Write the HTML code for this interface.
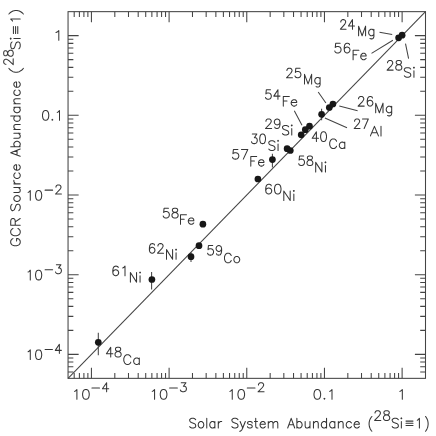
<!DOCTYPE html><html><head><meta charset="utf-8"><title>chart</title><style>html,body{margin:0;padding:0;background:#fff;font-family:"Liberation Sans",sans-serif}</style></head><body><svg width="436" height="436" viewBox="0 0 436 436" style="display:block">
<rect width="436" height="436" fill="#fff"/>
<g stroke="#444" stroke-width="1.05" fill="none" stroke-linecap="butt">
<rect x="68.05" y="11.65" width="357.45" height="366.70"/>
<path d="M74.20 11.65v5.3M74.20 378.35v-5.3M68.05 372.04h5.3M425.5 372.04h-5.3M79.40 11.65v5.3M79.40 378.35v-5.3M68.05 366.71h5.3M425.5 366.71h-5.3M83.90 11.65v5.3M83.90 378.35v-5.3M68.05 362.09h5.3M425.5 362.09h-5.3M87.88 11.65v5.3M87.88 378.35v-5.3M68.05 358.01h5.3M425.5 358.01h-5.3M91.43 11.65v10.6M91.43 378.35v-10.6M68.05 354.36h10.6M425.5 354.36h-10.6M114.81 11.65v5.3M114.81 378.35v-5.3M68.05 330.38h5.3M425.5 330.38h-5.3M128.49 11.65v5.3M128.49 378.35v-5.3M68.05 316.35h5.3M425.5 316.35h-5.3M138.19 11.65v5.3M138.19 378.35v-5.3M68.05 306.39h5.3M425.5 306.39h-5.3M145.72 11.65v5.3M145.72 378.35v-5.3M68.05 298.67h5.3M425.5 298.67h-5.3M151.87 11.65v5.3M151.87 378.35v-5.3M68.05 292.36h5.3M425.5 292.36h-5.3M157.07 11.65v5.3M157.07 378.35v-5.3M68.05 287.02h5.3M425.5 287.02h-5.3M161.58 11.65v5.3M161.58 378.35v-5.3M68.05 282.40h5.3M425.5 282.40h-5.3M165.55 11.65v5.3M165.55 378.35v-5.3M68.05 278.33h5.3M425.5 278.33h-5.3M169.10 11.65v10.6M169.10 378.35v-10.6M68.05 274.68h10.6M425.5 274.68h-10.6M192.48 11.65v5.3M192.48 378.35v-5.3M68.05 250.70h5.3M425.5 250.70h-5.3M206.16 11.65v5.3M206.16 378.35v-5.3M68.05 236.66h5.3M425.5 236.66h-5.3M215.87 11.65v5.3M215.87 378.35v-5.3M68.05 226.71h5.3M425.5 226.71h-5.3M223.39 11.65v5.3M223.39 378.35v-5.3M68.05 218.99h5.3M425.5 218.99h-5.3M229.54 11.65v5.3M229.54 378.35v-5.3M68.05 212.68h5.3M425.5 212.68h-5.3M234.74 11.65v5.3M234.74 378.35v-5.3M68.05 207.34h5.3M425.5 207.34h-5.3M239.25 11.65v5.3M239.25 378.35v-5.3M68.05 202.72h5.3M425.5 202.72h-5.3M243.22 11.65v5.3M243.22 378.35v-5.3M68.05 198.65h5.3M425.5 198.65h-5.3M246.77 11.65v10.6M246.77 378.35v-10.6M68.05 195.00h10.6M425.5 195.00h-10.6M270.16 11.65v5.3M270.16 378.35v-5.3M68.05 171.01h5.3M425.5 171.01h-5.3M283.83 11.65v5.3M283.83 378.35v-5.3M68.05 156.98h5.3M425.5 156.98h-5.3M293.54 11.65v5.3M293.54 378.35v-5.3M68.05 147.03h5.3M425.5 147.03h-5.3M301.07 11.65v5.3M301.07 378.35v-5.3M68.05 139.30h5.3M425.5 139.30h-5.3M307.22 11.65v5.3M307.22 378.35v-5.3M68.05 133.00h5.3M425.5 133.00h-5.3M312.42 11.65v5.3M312.42 378.35v-5.3M68.05 127.66h5.3M425.5 127.66h-5.3M316.92 11.65v5.3M316.92 378.35v-5.3M68.05 123.04h5.3M425.5 123.04h-5.3M320.89 11.65v5.3M320.89 378.35v-5.3M68.05 118.96h5.3M425.5 118.96h-5.3M324.45 11.65v10.6M324.45 378.35v-10.6M68.05 115.32h10.6M425.5 115.32h-10.6M347.83 11.65v5.3M347.83 378.35v-5.3M68.05 91.33h5.3M425.5 91.33h-5.3M361.51 11.65v5.3M361.51 378.35v-5.3M68.05 77.30h5.3M425.5 77.30h-5.3M371.21 11.65v5.3M371.21 378.35v-5.3M68.05 67.35h5.3M425.5 67.35h-5.3M378.74 11.65v5.3M378.74 378.35v-5.3M68.05 59.62h5.3M425.5 59.62h-5.3M384.89 11.65v5.3M384.89 378.35v-5.3M68.05 53.31h5.3M425.5 53.31h-5.3M390.09 11.65v5.3M390.09 378.35v-5.3M68.05 47.98h5.3M425.5 47.98h-5.3M394.59 11.65v5.3M394.59 378.35v-5.3M68.05 43.36h5.3M425.5 43.36h-5.3M398.56 11.65v5.3M398.56 378.35v-5.3M68.05 39.28h5.3M425.5 39.28h-5.3M402.12 11.65v10.6M402.12 378.35v-10.6M68.05 35.64h10.6M425.5 35.64h-10.6"/>
<path d="M68.05 378.35L425.5 11.65"/>
<path d="M379.5 32.2L392.2 34.5M371.5 53.4L392.9 40.3M405.5 43.6L408.6 58.7M318.2 92.0L325.9 103.0M294.3 110.7L302 125.2M339.3 106L357.6 110.7M324.9 117.9L347 127.8M321.6 108.8V120.2M272.4 153.8V167.5M191 252.3V261.9M151.6 271.9V289.5M98.3 332.7V355.2"/>
</g>
<g fill="#171717"><circle cx="398.6" cy="37.8" r="3.35"/><circle cx="402.1" cy="35.2" r="3.35"/><circle cx="329.3" cy="107.5" r="3.35"/><circle cx="332.9" cy="104" r="3.35"/><circle cx="321.6" cy="114.3" r="3.35"/><circle cx="309.5" cy="126.2" r="3.35"/><circle cx="305.3" cy="129.7" r="3.35"/><circle cx="301.2" cy="134.8" r="3.35"/><circle cx="287.1" cy="148.7" r="3.35"/><circle cx="290.3" cy="150.5" r="3.35"/><circle cx="272.4" cy="159.6" r="3.35"/><circle cx="257.9" cy="179.0" r="3.35"/><circle cx="202.9" cy="224.2" r="3.35"/><circle cx="199" cy="245.7" r="3.35"/><circle cx="191" cy="256.7" r="3.35"/><circle cx="151.9" cy="279.5" r="3.35"/><circle cx="98.3" cy="342.3" r="3.35"/></g>
<path d="M340.80 21.92L340.80 21.46L341.21 20.55L341.61 20.10L342.41 19.64L344.03 19.64L344.83 20.10L345.23 20.55L345.64 21.46L345.64 22.38L345.23 23.29L344.43 24.65L340.40 29.20L346.04 29.20M354.50 26.02L348.46 26.02L352.49 19.64L352.49 29.20M358.60 35.70L358.60 26.15L362.10 35.70L365.59 26.15L365.59 35.70M373.90 29.33L373.90 36.61L373.46 37.98L373.03 38.43L372.15 38.89L370.84 38.89L369.97 38.43M373.90 34.34L373.03 35.25L372.15 35.70L370.84 35.70L369.97 35.25L369.09 34.34L368.65 32.97L368.65 32.06L369.09 30.70L369.97 29.79L370.84 29.33L372.15 29.33L373.03 29.79L373.90 30.70M334.80 51.08L335.25 51.99L335.69 52.45L337.04 52.90L338.38 52.90L339.72 52.45L340.61 51.53L341.06 50.17L341.06 49.26L340.61 47.89L339.72 46.98L338.38 46.53L337.04 46.53L335.69 46.98L335.25 47.44L335.69 43.34L340.16 43.34M349.55 44.71L349.11 43.80L347.76 43.34L346.87 43.34L345.53 43.80L344.64 45.16L344.19 47.44L344.19 49.71L344.64 51.53L345.53 52.45L346.87 52.90L347.32 52.90L348.66 52.45L349.55 51.53L350.00 50.17L350.00 49.71L349.55 48.35L348.66 47.44L347.32 46.98L346.87 46.98L345.53 47.44L344.64 48.35L344.19 49.71M358.93 50.15L353.10 50.15L353.10 59.70M353.10 54.70L356.69 54.70M365.20 53.79L364.31 53.33L362.96 53.33L362.07 53.79L361.17 54.70L360.72 56.06L366.10 56.06L366.10 55.15L365.65 54.24L365.20 53.79M360.72 56.06L360.72 56.97L361.17 58.34L362.07 59.25L362.96 59.70L364.31 59.70L365.20 59.25L366.10 58.34M387.53 62.82L387.53 62.36L387.96 61.45L388.40 61.00L389.26 60.54L390.99 60.54L391.86 61.00L392.29 61.45L392.72 62.36L392.72 63.27L392.29 64.18L391.42 65.55L387.10 70.10L393.15 70.10M398.34 64.64L400.07 64.18L400.94 63.73L401.37 62.82L401.37 61.91L400.94 61.00L399.64 60.54L397.91 60.54L396.61 61.00L396.18 61.91L396.18 62.82L396.61 63.73L397.48 64.18L399.21 64.64L400.50 65.09L401.37 66.00L401.80 66.91L401.80 68.28L401.37 69.19L400.94 69.64L399.64 70.10L397.91 70.10L396.61 69.64L396.18 69.19L395.75 68.28L395.75 66.91L396.18 66.00L397.04 65.09L398.34 64.64M410.73 69.01L409.81 68.10L408.43 67.65L406.60 67.65L405.22 68.10L404.30 69.01L404.30 69.92L404.76 70.83L405.22 71.28L406.14 71.74L408.89 72.65L409.81 73.11L410.27 73.56L410.73 74.47L410.73 75.84L409.81 76.75L408.43 77.20L406.60 77.20L405.22 76.75L404.30 75.84M413.94 70.83L413.94 77.20M413.94 68.10L413.48 67.65L413.94 67.19L414.40 67.65L413.94 68.10M286.92 70.52L286.92 70.06L287.35 69.16L287.77 68.70L288.62 68.25L290.31 68.25L291.16 68.70L291.58 69.16L292.01 70.06L292.01 70.97L291.58 71.88L290.74 73.25L286.50 77.80L292.43 77.80M294.97 75.98L295.39 76.89L295.82 77.34L297.09 77.80L298.36 77.80L299.63 77.34L300.48 76.44L300.90 75.07L300.90 74.16L300.48 72.80L299.63 71.88L298.36 71.43L297.09 71.43L295.82 71.88L295.39 72.34L295.82 68.25L300.05 68.25M304.50 83.90L304.50 74.34L308.07 83.90L311.63 74.34L311.63 83.90M320.10 77.53L320.10 84.81L319.65 86.18L319.21 86.63L318.32 87.09L316.98 87.09L316.09 86.63M320.10 82.54L319.21 83.45L318.32 83.90L316.98 83.90L316.09 83.45L315.20 82.54L314.75 81.17L314.75 80.26L315.20 78.90L316.09 77.98L316.98 77.53L318.32 77.53L319.21 77.98L320.10 78.90M265.50 97.48L265.91 98.39L266.33 98.84L267.57 99.30L268.81 99.30L270.06 98.84L270.89 97.94L271.30 96.57L271.30 95.66L270.89 94.30L270.06 93.38L268.81 92.93L267.57 92.93L266.33 93.38L265.91 93.84L266.33 89.75L270.47 89.75M280.00 96.11L273.79 96.11L277.93 89.75L277.93 99.30M289.31 96.54L283.30 96.54L283.30 106.10M283.30 101.09L287.00 101.09M295.78 100.18L294.85 99.73L293.47 99.73L292.54 100.18L291.62 101.09L291.16 102.46L296.70 102.46L296.70 101.55L296.24 100.64L295.78 100.18M291.16 102.46L291.16 103.37L291.62 104.73L292.54 105.64L293.47 106.10L294.85 106.10L295.78 105.64L296.70 104.73M358.54 98.82L358.54 98.36L358.97 97.45L359.41 97.00L360.28 96.54L362.02 96.54L362.89 97.00L363.32 97.45L363.76 98.36L363.76 99.27L363.32 100.18L362.45 101.55L358.10 106.10L364.19 106.10M372.46 97.91L372.03 97.00L370.72 96.54L369.85 96.54L368.55 97.00L367.68 98.36L367.24 100.64L367.24 102.91L367.68 104.73L368.55 105.64L369.85 106.10L370.29 106.10L371.59 105.64L372.46 104.73L372.90 103.37L372.90 102.91L372.46 101.55L371.59 100.64L370.29 100.18L369.85 100.18L368.55 100.64L367.68 101.55L367.24 102.91M375.70 112.70L375.70 103.15L379.36 112.70L383.01 103.15L383.01 112.70M391.70 106.33L391.70 113.61L391.24 114.98L390.79 115.43L389.87 115.89L388.50 115.89L387.59 115.43M391.70 111.34L390.79 112.25L389.87 112.70L388.50 112.70L387.59 112.25L386.67 111.34L386.21 109.97L386.21 109.06L386.67 107.70L387.59 106.78L388.50 106.33L389.87 106.33L390.79 106.78L391.70 107.70M354.61 121.22L354.61 120.77L355.03 119.86L355.44 119.40L356.27 118.94L357.93 118.94L358.76 119.40L359.18 119.86L359.59 120.77L359.59 121.67L359.18 122.58L358.35 123.95L354.20 128.50L360.01 128.50M364.15 128.50L368.30 118.94L362.49 118.94M370.40 135.90L374.44 126.34L378.48 135.90M371.91 132.72L376.96 132.72M381.00 126.34L381.00 135.90M265.94 121.22L265.94 120.77L266.38 119.86L266.82 119.40L267.70 118.94L269.45 118.94L270.33 119.40L270.77 119.86L271.21 120.77L271.21 121.67L270.77 122.58L269.89 123.95L265.50 128.50L271.65 128.50M280.00 122.13L279.56 123.50L278.68 124.41L277.36 124.86L276.92 124.86L275.61 124.41L274.73 123.50L274.29 122.13L274.29 121.67L274.73 120.31L275.61 119.40L276.92 118.94L277.36 118.94L278.68 119.40L279.56 120.31L280.00 122.13L280.00 124.41L279.56 126.68L278.68 128.04L277.36 128.50L276.48 128.50L275.17 128.04L274.73 127.14M288.67 126.81L287.79 125.90L286.47 125.44L284.70 125.44L283.38 125.90L282.50 126.81L282.50 127.72L282.94 128.63L283.38 129.09L284.26 129.54L286.91 130.45L287.79 130.91L288.23 131.36L288.67 132.27L288.67 133.63L287.79 134.54L286.47 135.00L284.70 135.00L283.38 134.54L282.50 133.63M291.76 128.63L291.76 135.00M291.76 125.90L291.32 125.44L291.76 124.99L292.20 125.44L291.76 125.90M318.51 138.22L312.20 138.22L316.41 131.84L316.41 141.40M326.08 139.58L325.24 140.94L323.98 141.40L323.14 141.40L321.87 140.94L321.03 139.58L320.61 137.31L320.61 135.94L321.03 133.66L321.87 132.30L323.14 131.84L323.98 131.84L325.24 132.30L326.08 133.66L326.50 135.94L326.50 137.31L326.08 139.58M336.56 141.22L336.11 140.31L335.19 139.40L334.28 138.94L332.45 138.94L331.53 139.40L330.62 140.31L330.16 141.22L329.70 142.59L329.70 144.86L330.16 146.22L330.62 147.13L331.53 148.04L332.45 148.50L334.28 148.50L335.19 148.04L336.11 147.13L336.56 146.22M344.80 142.13L344.80 148.50M344.80 147.13L343.88 148.04L342.97 148.50L341.60 148.50L340.68 148.04L339.77 147.13L339.31 145.77L339.31 144.86L339.77 143.50L340.68 142.59L341.60 142.13L342.97 142.13L343.88 142.59L344.80 143.50M252.32 134.04L256.85 134.04L254.38 137.69L255.62 137.69L256.44 138.14L256.85 138.59L257.26 139.96L257.26 140.87L256.85 142.23L256.03 143.14L254.79 143.60L253.56 143.60L252.32 143.14L251.91 142.69L251.50 141.78M265.09 141.78L264.26 143.14L263.03 143.60L262.21 143.60L260.97 143.14L260.15 141.78L259.74 139.50L259.74 138.14L260.15 135.86L260.97 134.50L262.21 134.04L263.03 134.04L264.26 134.50L265.09 135.86L265.50 138.14L265.50 139.50L265.09 141.78M274.97 142.21L274.09 141.30L272.77 140.84L271.00 140.84L269.68 141.30L268.80 142.21L268.80 143.12L269.24 144.03L269.68 144.49L270.56 144.94L273.21 145.85L274.09 146.31L274.53 146.76L274.97 147.67L274.97 149.03L274.09 149.94L272.77 150.40L271.00 150.40L269.68 149.94L268.80 149.03M278.06 144.03L278.06 150.40M278.06 141.30L277.62 140.84L278.06 140.39L278.50 140.84L278.06 141.30M298.70 163.68L299.11 164.59L299.53 165.04L300.77 165.50L302.02 165.50L303.26 165.04L304.09 164.13L304.51 162.77L304.51 161.86L304.09 160.50L303.26 159.59L302.02 159.13L300.77 159.13L299.53 159.59L299.11 160.04L299.53 155.94L303.68 155.94M309.48 160.04L311.14 159.59L311.97 159.13L312.39 158.22L312.39 157.31L311.97 156.40L310.73 155.94L309.07 155.94L307.82 156.40L307.41 157.31L307.41 158.22L307.82 159.13L308.65 159.59L310.31 160.04L311.56 160.50L312.39 161.41L312.80 162.31L312.80 163.68L312.39 164.59L311.97 165.04L310.73 165.50L309.07 165.50L307.82 165.04L307.41 164.59L306.99 163.68L306.99 162.31L307.41 161.41L308.24 160.50L309.48 160.04M315.70 171.90L315.70 162.34L321.91 171.90L321.91 162.34M325.46 165.53L325.46 171.90M325.46 162.80L325.01 162.34L325.46 161.89L325.90 162.34L325.46 162.80M271.26 185.71L270.80 184.80L269.41 184.34L268.48 184.34L267.09 184.80L266.16 186.16L265.70 188.44L265.70 190.72L266.16 192.53L267.09 193.44L268.48 193.90L268.95 193.90L270.34 193.44L271.26 192.53L271.73 191.17L271.73 190.72L271.26 189.35L270.34 188.44L268.95 187.99L268.48 187.99L267.09 188.44L266.16 189.35L265.70 190.72M280.54 192.08L279.61 193.44L278.22 193.90L277.29 193.90L275.90 193.44L274.97 192.08L274.51 189.81L274.51 188.44L274.97 186.16L275.90 184.80L277.29 184.34L278.22 184.34L279.61 184.80L280.54 186.16L281.00 188.44L281.00 189.81L280.54 192.08M283.80 200.50L283.80 190.94L290.19 200.50L290.19 190.94M293.84 194.13L293.84 200.50M293.84 191.40L293.39 190.94L293.84 190.49L294.30 190.94L293.84 191.40M232.50 157.28L232.95 158.19L233.40 158.64L234.75 159.10L236.10 159.10L237.45 158.64L238.35 157.73L238.80 156.37L238.80 155.46L238.35 154.09L237.45 153.19L236.10 152.73L234.75 152.73L233.40 153.19L232.95 153.64L233.40 149.54L237.90 149.54M243.30 159.10L247.80 149.54L241.50 149.54M256.67 156.54L250.80 156.54L250.80 166.10M250.80 161.09L254.41 161.09M263.00 160.19L262.09 159.73L260.74 159.73L259.83 160.19L258.93 161.09L258.48 162.46L263.90 162.46L263.90 161.55L263.45 160.64L263.00 160.19M258.48 162.46L258.48 163.37L258.93 164.73L259.83 165.64L260.74 166.10L262.09 166.10L263.00 165.64L263.90 164.73M163.20 216.08L163.64 216.99L164.08 217.44L165.39 217.90L166.71 217.90L168.02 217.44L168.90 216.53L169.34 215.17L169.34 214.26L168.90 212.90L168.02 211.99L166.71 211.53L165.39 211.53L164.08 211.99L163.64 212.44L164.08 208.34L168.46 208.34M174.59 212.44L176.35 211.99L177.22 211.53L177.66 210.62L177.66 209.71L177.22 208.80L175.91 208.34L174.16 208.34L172.84 208.80L172.40 209.71L172.40 210.62L172.84 211.53L173.72 211.99L175.47 212.44L176.79 212.90L177.66 213.81L178.10 214.72L178.10 216.08L177.66 216.99L177.22 217.44L175.91 217.90L174.16 217.90L172.84 217.44L172.40 216.99L171.96 216.08L171.96 214.72L172.40 213.81L173.28 212.90L174.59 212.44M186.46 214.75L180.50 214.75L180.50 224.30M180.50 219.30L184.17 219.30M192.88 218.39L191.97 217.93L190.59 217.93L189.67 218.39L188.76 219.30L188.30 220.66L193.80 220.66L193.80 219.75L193.34 218.84L192.88 218.39M188.30 220.66L188.30 221.57L188.76 222.94L189.67 223.84L190.59 224.30L191.97 224.30L192.88 223.84L193.80 222.94M154.53 245.01L154.10 244.10L152.82 243.64L151.96 243.64L150.68 244.10L149.83 245.46L149.40 247.74L149.40 250.01L149.83 251.83L150.68 252.74L151.96 253.20L152.39 253.20L153.67 252.74L154.53 251.83L154.95 250.47L154.95 250.01L154.53 248.65L153.67 247.74L152.39 247.28L151.96 247.28L150.68 247.74L149.83 248.65L149.40 250.01M157.95 245.92L157.95 245.46L158.37 244.55L158.80 244.10L159.65 243.64L161.36 243.64L162.22 244.10L162.65 244.55L163.07 245.46L163.07 246.38L162.65 247.28L161.79 248.65L157.52 253.20L163.50 253.20M166.50 259.20L166.50 249.64L172.59 259.20L172.59 249.64M176.07 252.83L176.07 259.20M176.07 250.10L175.63 249.64L176.07 249.19L176.50 249.64L176.07 250.10M207.60 253.28L208.02 254.19L208.45 254.64L209.72 255.10L210.99 255.10L212.27 254.64L213.12 253.73L213.54 252.37L213.54 251.46L213.12 250.09L212.27 249.19L210.99 248.73L209.72 248.73L208.45 249.19L208.02 249.64L208.45 245.54L212.69 245.54M221.60 248.73L221.18 250.09L220.33 251.00L219.05 251.46L218.63 251.46L217.36 251.00L216.51 250.09L216.08 248.73L216.08 248.28L216.51 246.91L217.36 246.00L218.63 245.54L219.05 245.54L220.33 246.00L221.18 246.91L221.60 248.73L221.60 251.00L221.18 253.28L220.33 254.64L219.05 255.10L218.21 255.10L216.93 254.64L216.51 253.73M231.21 255.52L230.76 254.61L229.86 253.70L228.97 253.25L227.18 253.25L226.29 253.70L225.39 254.61L224.95 255.52L224.50 256.88L224.50 259.16L224.95 260.53L225.39 261.44L226.29 262.35L227.18 262.80L228.97 262.80L229.86 262.35L230.76 261.44L231.21 260.53M239.25 261.44L238.36 262.35L237.46 262.80L236.12 262.80L235.23 262.35L234.34 261.44L233.89 260.07L233.89 259.16L234.34 257.80L235.23 256.88L236.12 256.43L237.46 256.43L238.36 256.88L239.25 257.80L239.70 259.16L239.70 260.07L239.25 261.44M118.22 267.51L117.77 266.60L116.41 266.14L115.51 266.14L114.16 266.60L113.25 267.96L112.80 270.24L112.80 272.51L113.25 274.33L114.16 275.25L115.51 275.70L115.96 275.70L117.32 275.25L118.22 274.33L118.67 272.97L118.67 272.51L118.22 271.15L117.32 270.24L115.96 269.78L115.51 269.78L114.16 270.24L113.25 271.15L112.80 272.51M122.74 267.96L123.64 267.51L125.00 266.14L125.00 275.70M130.40 282.10L130.40 272.55L136.55 282.10L136.55 272.55M140.06 275.73L140.06 282.10M140.06 273.00L139.62 272.55L140.06 272.09L140.50 272.55L140.06 273.00M112.89 353.71L106.40 353.71L110.72 347.34L110.72 356.90M117.64 351.44L119.37 350.98L120.24 350.53L120.67 349.62L120.67 348.71L120.24 347.80L118.94 347.34L117.21 347.34L115.91 347.80L115.48 348.71L115.48 349.62L115.91 350.53L116.78 350.98L118.51 351.44L119.80 351.89L120.67 352.80L121.10 353.71L121.10 355.08L120.67 355.99L120.24 356.44L118.94 356.90L117.21 356.90L115.91 356.44L115.48 355.99L115.05 355.08L115.05 353.71L115.48 352.80L116.34 351.89L117.64 351.44M130.85 357.12L130.38 356.21L129.44 355.30L128.50 354.84L126.62 354.84L125.68 355.30L124.74 356.21L124.27 357.12L123.80 358.48L123.80 360.76L124.27 362.12L124.74 363.03L125.68 363.94L126.62 364.40L128.50 364.40L129.44 363.94L130.38 363.03L130.85 362.12M139.30 358.03L139.30 364.40M139.30 363.03L138.36 363.94L137.42 364.40L136.01 364.40L135.07 363.94L134.13 363.03L133.66 361.67L133.66 360.76L134.13 359.39L135.07 358.48L136.01 358.03L137.42 358.03L138.36 358.48L139.30 359.39M74.53 391.38L75.48 390.92L76.90 389.54L76.90 399.20M88.76 397.36L87.81 398.74L86.39 399.20L85.44 399.20L84.02 398.74L83.07 397.36L82.59 395.06L82.59 393.68L83.07 391.38L84.02 390.00L85.44 389.54L86.39 389.54L87.81 390.00L88.76 391.38L89.23 393.68L89.23 395.06L88.76 397.36M91.93 387.93L99.49 387.93M108.73 388.79L102.43 388.79L106.63 382.77L106.63 391.80M152.20 391.38L153.15 390.92L154.57 389.54L154.57 399.20M166.43 397.36L165.48 398.74L164.06 399.20L163.11 399.20L161.69 398.74L160.74 397.36L160.26 395.06L160.26 393.68L160.74 391.38L161.69 390.00L163.11 389.54L164.06 389.54L165.48 390.00L166.43 391.38L166.90 393.68L166.90 395.06L166.43 397.36M169.60 387.93L177.36 387.93M181.23 382.77L185.97 382.77L183.39 386.21L184.68 386.21L185.54 386.64L185.97 387.07L186.40 388.36L186.40 389.22L185.97 390.51L185.11 391.37L183.82 391.80L182.53 391.80L181.23 391.37L180.80 390.94L180.37 390.08M229.87 391.38L230.82 390.92L232.25 389.54L232.25 399.20M244.10 397.36L243.15 398.74L241.73 399.20L240.78 399.20L239.36 398.74L238.41 397.36L237.94 395.06L237.94 393.68L238.41 391.38L239.36 390.00L240.78 389.54L241.73 389.54L243.15 390.00L244.10 391.38L244.57 393.68L244.57 395.06L244.10 397.36M247.27 387.93L255.03 387.93M258.47 384.92L258.47 384.49L258.91 383.63L259.34 383.20L260.20 382.77L261.92 382.77L262.78 383.20L263.21 383.63L263.64 384.49L263.64 385.35L263.21 386.21L262.35 387.50L258.04 391.80L264.07 391.80M320.16 397.36L319.21 398.74L317.79 399.20L316.84 399.20L315.42 398.74L314.47 397.36L314.00 395.06L314.00 393.68L314.47 391.38L315.42 390.00L316.84 389.54L317.79 389.54L319.21 390.00L320.16 391.38L320.63 393.68L320.63 395.06L320.16 397.36M324.42 399.20L323.95 398.74L324.42 398.28L324.89 398.74L324.42 399.20M329.63 391.38L330.58 390.92L332.00 389.54L332.00 399.20M399.82 391.38L400.82 390.92L402.32 389.54L402.32 399.20M28.10 351.74L28.98 351.28L30.29 349.90L30.29 359.56M41.26 357.72L40.38 359.10L39.07 359.56L38.19 359.56L36.87 359.10L36.00 357.72L35.56 355.42L35.56 354.04L36.00 351.74L36.87 350.36L38.19 349.90L39.07 349.90L40.38 350.36L41.26 351.74L41.70 354.04L41.70 355.42L41.26 357.72M45.10 349.49L52.43 349.49M61.40 350.35L55.29 350.35L59.36 344.33L59.36 353.36M28.10 272.06L28.98 271.60L30.29 270.22L30.29 279.88M41.26 278.04L40.38 279.42L39.07 279.88L38.19 279.88L36.87 279.42L36.00 278.04L35.56 275.74L35.56 274.36L36.00 272.06L36.87 270.68L38.19 270.22L39.07 270.22L40.38 270.68L41.26 272.06L41.70 274.36L41.70 275.74L41.26 278.04M45.10 269.81L52.62 269.81M56.38 264.65L60.98 264.65L58.47 268.09L59.73 268.09L60.56 268.52L60.98 268.95L61.40 270.24L61.40 271.10L60.98 272.39L60.15 273.25L58.89 273.68L57.64 273.68L56.38 273.25L55.97 272.82L55.55 271.96M28.10 192.38L28.98 191.92L30.29 190.54L30.29 200.20M41.26 198.36L40.38 199.74L39.07 200.20L38.19 200.20L36.87 199.74L36.00 198.36L35.56 196.06L35.56 194.68L36.00 192.38L36.87 191.00L38.19 190.54L39.07 190.54L40.38 191.00L41.26 192.38L41.70 194.68L41.70 196.06L41.26 198.36M45.10 190.13L52.62 190.13M55.97 187.12L55.97 186.69L56.38 185.83L56.80 185.40L57.64 184.97L59.31 184.97L60.15 185.40L60.56 185.83L60.98 186.69L60.98 187.55L60.56 188.41L59.73 189.70L55.55 194.00L61.40 194.00M48.32 118.38L47.42 119.76L46.08 120.22L45.18 120.22L43.84 119.76L42.95 118.38L42.50 116.08L42.50 114.70L42.95 112.40L43.84 111.02L45.18 110.56L46.08 110.56L47.42 111.02L48.32 112.40L48.76 114.70L48.76 116.08L48.32 118.38M52.34 120.22L51.89 119.76L52.34 119.30L52.79 119.76L52.34 120.22M57.26 112.40L58.16 111.94L59.50 110.56L59.50 120.22M56.00 32.52L57.12 32.06L58.80 30.68L58.80 40.34M195.67 419.72L194.82 418.80L193.54 418.34L191.83 418.34L190.55 418.80L189.70 419.72L189.70 420.64L190.13 421.56L190.55 422.02L191.41 422.48L193.97 423.40L194.82 423.86L195.25 424.32L195.67 425.24L195.67 426.62L194.82 427.54L193.54 428.00L191.83 428.00L190.55 427.54L189.70 426.62M203.35 426.62L202.50 427.54L201.65 428.00L200.37 428.00L199.51 427.54L198.66 426.62L198.23 425.24L198.23 424.32L198.66 422.94L199.51 422.02L200.37 421.56L201.65 421.56L202.50 422.02L203.35 422.94L203.78 424.32L203.78 425.24L203.35 426.62M206.77 418.34L206.77 428.00M214.87 421.56L214.87 428.00M214.87 426.62L214.02 427.54L213.17 428.00L211.89 428.00L211.03 427.54L210.18 426.62L209.75 425.24L209.75 424.32L210.18 422.94L211.03 422.02L211.89 421.56L213.17 421.56L214.02 422.02L214.87 422.94M218.29 421.56L218.29 428.00M218.29 424.32L218.71 422.94L219.57 422.02L220.42 421.56L221.70 421.56M237.96 419.72L237.10 418.80L235.80 418.34L234.07 418.34L232.77 418.80L231.90 419.72L231.90 420.64L232.33 421.56L232.77 422.02L233.63 422.48L236.23 423.40L237.10 423.86L237.53 424.32L237.96 425.24L237.96 426.62L237.10 427.54L235.80 428.00L234.07 428.00L232.77 427.54L231.90 426.62M240.13 421.56L242.73 428.00L245.32 421.56M239.69 431.22L240.13 431.22L240.99 430.76L241.86 429.84L242.73 428.00M252.25 422.94L251.82 422.02L250.52 421.56L249.22 421.56L247.92 422.02L247.49 422.94L247.92 423.86L248.79 424.32L250.95 424.78L251.82 425.24L252.25 426.16L252.25 426.62L251.82 427.54L250.52 428.00L249.22 428.00L247.92 427.54L247.49 426.62M255.72 418.34L255.72 426.16L256.15 427.54L257.02 428.00L257.88 428.00M254.42 421.56L257.45 421.56M264.38 422.02L263.51 421.56L262.21 421.56L261.35 422.02L260.48 422.94L260.05 424.32L265.24 424.32L265.24 423.40L264.81 422.48L264.38 422.02M260.05 424.32L260.05 425.24L260.48 426.62L261.35 427.54L262.21 428.00L263.51 428.00L264.38 427.54L265.24 426.62M268.27 421.56L268.27 428.00M268.27 423.40L269.57 422.02L270.44 421.56L271.74 421.56L272.60 422.02L273.04 423.40L273.04 428.00M273.04 423.40L274.34 422.02L275.20 421.56L276.50 421.56L277.37 422.02L277.80 423.40L277.80 428.00M287.70 428.00L291.19 418.34L294.69 428.00M289.01 424.78L293.38 424.78M296.87 418.34L296.87 428.00M296.87 422.94L297.74 422.02L298.61 421.56L299.92 421.56L300.80 422.02L301.67 422.94L302.11 424.32L302.11 425.24L301.67 426.62L300.80 427.54L299.92 428.00L298.61 428.00L297.74 427.54L296.87 426.62M309.97 421.56L309.97 428.00M305.16 421.56L305.16 426.16L305.60 427.54L306.47 428.00L307.78 428.00L308.66 427.54L309.97 426.16M313.46 421.56L313.46 428.00M313.46 423.40L314.77 422.02L315.64 421.56L316.95 421.56L317.82 422.02L318.26 423.40L318.26 428.00M326.56 418.34L326.56 428.00M326.56 426.62L325.68 427.54L324.81 428.00L323.50 428.00L322.63 427.54L321.75 426.62L321.32 425.24L321.32 424.32L321.75 422.94L322.63 422.02L323.50 421.56L324.81 421.56L325.68 422.02L326.56 422.94M334.85 421.56L334.85 428.00M334.85 426.62L333.98 427.54L333.10 428.00L331.80 428.00L330.92 427.54L330.05 426.62L329.61 425.24L329.61 424.32L330.05 422.94L330.92 422.02L331.80 421.56L333.10 421.56L333.98 422.02L334.85 422.94M338.34 421.56L338.34 428.00M338.34 423.40L339.65 422.02L340.53 421.56L341.84 421.56L342.71 422.02L343.15 423.40L343.15 428.00M351.44 426.62L350.57 427.54L349.70 428.00L348.39 428.00L347.51 427.54L346.64 426.62L346.20 425.24L346.20 424.32L346.64 422.94L347.51 422.02L348.39 421.56L349.70 421.56L350.57 422.02L351.44 422.94M358.43 422.02L357.55 421.56L356.24 421.56L355.37 422.02L354.50 422.94L354.06 424.32L359.30 424.32L359.30 423.40L358.86 422.48L358.43 422.02M354.06 424.32L354.06 425.24L354.50 426.62L355.37 427.54L356.24 428.00L357.55 428.00L358.43 427.54L359.30 426.62M371.90 431.22L371.10 430.30L370.30 428.92L369.50 427.08L369.10 424.78L369.10 422.94L369.50 420.64L370.30 418.80L371.10 417.42L371.90 416.50M375.04 413.04L375.04 412.58L375.49 411.66L375.93 411.20L376.82 410.74L378.60 410.74L379.49 411.20L379.93 411.66L380.37 412.58L380.37 413.50L379.93 414.42L379.04 415.80L374.60 420.40L380.82 420.40M386.15 414.88L387.92 414.42L388.81 413.96L389.26 413.04L389.26 412.12L388.81 411.20L387.48 410.74L385.70 410.74L384.37 411.20L383.93 412.12L383.93 413.04L384.37 413.96L385.26 414.42L387.04 414.88L388.37 415.34L389.26 416.26L389.70 417.18L389.70 418.56L389.26 419.48L388.81 419.94L387.48 420.40L385.70 420.40L384.37 419.94L383.93 419.48L383.48 418.56L383.48 417.18L383.93 416.26L384.81 415.34L386.15 414.88M398.31 419.72L397.44 418.80L396.13 418.34L394.38 418.34L393.07 418.80L392.20 419.72L392.20 420.64L392.64 421.56L393.07 422.02L393.95 422.48L396.56 423.40L397.44 423.86L397.87 424.32L398.31 425.24L398.31 426.62L397.44 427.54L396.13 428.00L394.38 428.00L393.07 427.54L392.20 426.62M401.36 421.56L401.36 428.00M401.36 418.80L400.93 418.34L401.36 417.88L401.80 418.34L401.36 418.80M406.00 421.10L413.00 421.10M406.00 423.31L413.00 423.31M406.00 425.52L413.00 425.52M417.30 420.18L418.14 419.72L419.40 418.34L419.40 428.00M425.50 416.50L426.24 417.42L426.99 418.80L427.73 420.64L428.10 422.94L428.10 424.78L427.73 427.08L426.99 428.92L426.24 430.30L425.50 431.22M12.97 238.62L12.06 239.09L11.16 240.05L10.71 241.01L10.71 242.93L11.16 243.88L12.06 244.84L12.97 245.32L14.32 245.80L16.58 245.80L17.94 245.32L18.84 244.84L19.75 243.88L20.20 242.93L20.20 241.01L19.75 240.05L18.84 239.09L17.94 238.62L16.58 238.62L16.58 241.01M12.97 228.56L12.06 229.04L11.16 229.99L10.71 230.95L10.71 232.87L11.16 233.83L12.06 234.78L12.97 235.26L14.32 235.74L16.58 235.74L17.94 235.26L18.84 234.78L19.75 233.83L20.20 232.87L20.20 230.95L19.75 229.99L18.84 229.04L17.94 228.56M15.23 225.21L15.23 220.89L14.78 219.46L14.32 218.98L13.42 218.50L12.52 218.50L11.61 218.98L11.16 219.46L10.71 220.89L10.71 225.21L20.20 225.21M15.23 221.85L20.20 218.50M12.06 204.25L11.16 205.16L10.71 206.52L10.71 208.33L11.16 209.69L12.06 210.60L12.97 210.60L13.87 210.15L14.32 209.69L14.78 208.79L15.68 206.07L16.13 205.16L16.58 204.70L17.49 204.25L18.84 204.25L19.75 205.16L20.20 206.52L20.20 208.33L19.75 209.69L18.84 210.60M18.84 196.09L19.75 197.00L20.20 197.90L20.20 199.26L19.75 200.17L18.84 201.08L17.49 201.53L16.58 201.53L15.23 201.08L14.32 200.17L13.87 199.26L13.87 197.90L14.32 197.00L15.23 196.09L16.58 195.64L17.49 195.64L18.84 196.09M13.87 187.47L20.20 187.47M13.87 192.46L18.39 192.46L19.75 192.01L20.20 191.10L20.20 189.74L19.75 188.83L18.39 187.47M13.87 183.85L20.20 183.85M16.58 183.85L15.23 183.39L14.32 182.49L13.87 181.58L13.87 180.22M18.84 172.96L19.75 173.87L20.20 174.78L20.20 176.14L19.75 177.04L18.84 177.95L17.49 178.40L16.58 178.40L15.23 177.95L14.32 177.04L13.87 176.14L13.87 174.78L14.32 173.87L15.23 172.96M14.32 165.71L13.87 166.61L13.87 167.97L14.32 168.88L15.23 169.79L16.58 170.24L16.58 164.80L15.68 164.80L14.78 165.25L14.32 165.71M16.58 170.24L17.49 170.24L18.84 169.79L19.75 168.88L20.20 167.97L20.20 166.61L19.75 165.71L18.84 164.80M20.20 156.30L10.71 152.67L20.20 149.04M17.04 154.94L17.04 150.40M10.71 146.77L20.20 146.77M15.23 146.77L14.32 145.87L13.87 144.96L13.87 143.60L14.32 142.69L15.23 141.78L16.58 141.33L17.49 141.33L18.84 141.78L19.75 142.69L20.20 143.60L20.20 144.96L19.75 145.87L18.84 146.77M13.87 133.16L20.20 133.16M13.87 138.15L18.39 138.15L19.75 137.70L20.20 136.79L20.20 135.43L19.75 134.52L18.39 133.16M13.87 129.53L20.20 129.53M15.68 129.53L14.32 128.17L13.87 127.27L13.87 125.90L14.32 125.00L15.68 124.54L20.20 124.54M10.71 115.92L20.20 115.92M18.84 115.92L19.75 116.83L20.20 117.74L20.20 119.10L19.75 120.01L18.84 120.91L17.49 121.37L16.58 121.37L15.23 120.91L14.32 120.01L13.87 119.10L13.87 117.74L14.32 116.83L15.23 115.92M13.87 107.30L20.20 107.30M18.84 107.30L19.75 108.21L20.20 109.12L20.20 110.48L19.75 111.39L18.84 112.30L17.49 112.75L16.58 112.75L15.23 112.30L14.32 111.39L13.87 110.48L13.87 109.12L14.32 108.21L15.23 107.30M13.87 103.68L20.20 103.68M15.68 103.68L14.32 102.31L13.87 101.41L13.87 100.05L14.32 99.14L15.68 98.69L20.20 98.69M18.84 90.07L19.75 90.97L20.20 91.88L20.20 93.24L19.75 94.15L18.84 95.06L17.49 95.51L16.58 95.51L15.23 95.06L14.32 94.15L13.87 93.24L13.87 91.88L14.32 90.97L15.23 90.07M14.32 82.81L13.87 83.71L13.87 85.08L14.32 85.98L15.23 86.89L16.58 87.34L16.58 81.90L15.68 81.90L14.78 82.35L14.32 82.81M16.58 87.34L17.49 87.34L18.84 86.89L19.75 85.98L20.20 85.08L20.20 83.71L19.75 82.81L18.84 81.90M23.36 68.40L22.46 69.49L21.10 70.57L19.30 71.66L17.04 72.20L15.23 72.20L12.97 71.66L11.16 70.57L9.80 69.49L8.90 68.40M5.97 64.28L5.52 64.28L4.61 63.85L4.16 63.43L3.71 62.58L3.71 60.89L4.16 60.04L4.61 59.62L5.52 59.19L6.42 59.19L7.32 59.62L8.68 60.46L13.20 64.70L13.20 58.77M7.78 53.69L7.32 51.99L6.87 51.15L5.97 50.72L5.06 50.72L4.16 51.15L3.71 52.42L3.71 54.11L4.16 55.38L5.06 55.81L5.97 55.81L6.87 55.38L7.32 54.54L7.78 52.84L8.23 51.57L9.13 50.72L10.04 50.30L11.39 50.30L12.30 50.72L12.75 51.15L13.20 52.42L13.20 54.11L12.75 55.38L12.30 55.81L11.39 56.23L10.04 56.23L9.13 55.81L8.23 54.96L7.78 53.69M12.06 41.99L11.16 42.96L10.71 44.42L10.71 46.37L11.16 47.83L12.06 48.80L12.97 48.80L13.87 48.31L14.32 47.83L14.78 46.85L15.68 43.94L16.13 42.96L16.58 42.48L17.49 41.99L18.84 41.99L19.75 42.96L20.20 44.42L20.20 46.37L19.75 47.83L18.84 48.80M13.87 38.59L20.20 38.59M11.16 38.59L10.71 39.07L10.26 38.59L10.71 38.10L11.16 38.59M13.42 33.40L13.42 26.50M15.59 33.40L15.59 26.50M17.76 33.40L17.76 26.50M12.52 21.10L12.06 20.26L10.71 19.00L20.20 19.00M8.90 14.00L9.80 13.00L11.16 12.00L12.97 11.00L15.23 10.50L17.04 10.50L19.30 11.00L21.10 12.00L22.46 13.00L23.36 14.00" fill="none" stroke="#363636" stroke-width="1.05" stroke-linecap="round" stroke-linejoin="round"/>
</svg></body></html>
